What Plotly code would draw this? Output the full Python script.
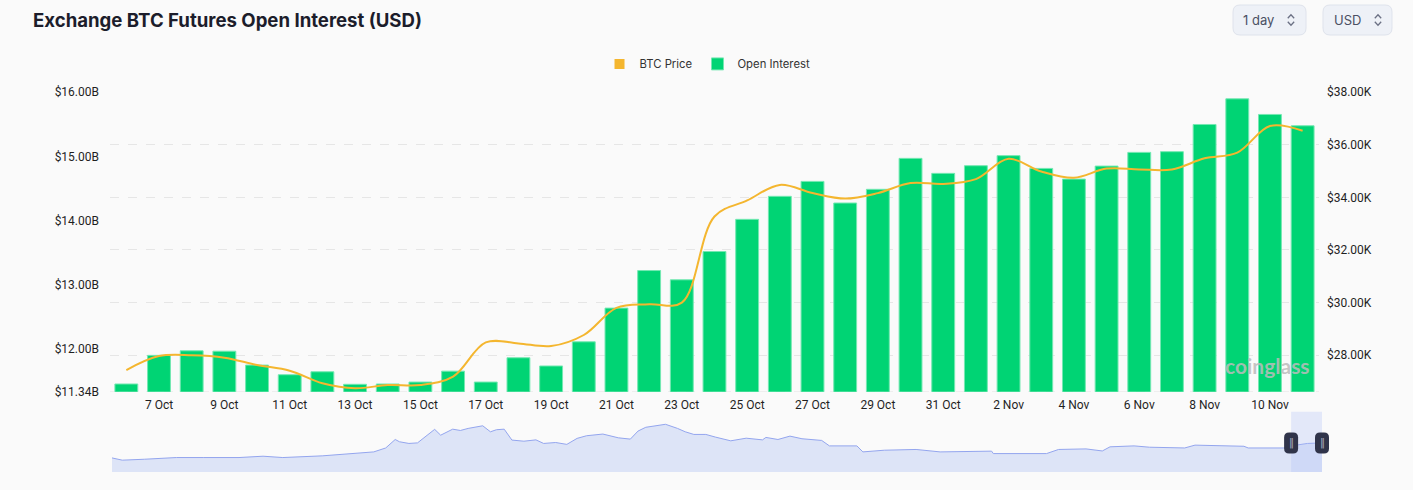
import pandas as pd
import plotly.graph_objects as go

# daily bars, 6 Oct 2023 -> 11 Nov 2023
dates = pd.date_range("2023-10-06", "2023-11-11", freq="D")

# open interest, billions of USD
open_interest = [
    11.46, 11.905, 11.976, 11.97, 11.754, 11.604, 11.65, 11.455, 11.46,
    11.49, 11.66, 11.49, 11.868, 11.74, 12.116, 12.64, 13.224, 13.08,
    13.52, 14.02, 14.378, 14.61, 14.274, 14.487, 14.968, 14.735, 14.854,
    15.01, 14.812, 14.646, 14.848, 15.061, 15.072, 15.495, 15.894, 15.651,
    15.475,
]

# BTC price, thousands of USD
btc_price = [
    27.44, 27.97, 28.0, 27.91, 27.63, 27.415, 26.935, 26.745, 26.87,
    26.87, 27.19, 28.49, 28.45, 28.35, 28.77, 29.80, 29.94, 30.0,
    33.27, 33.88, 34.47, 34.16, 33.95, 34.16, 34.54, 34.51, 34.69,
    35.46, 34.98, 34.74, 35.09, 35.06, 35.06, 35.48, 35.70, 36.71,
    36.53,
]

oi_ticks = [11.34, 12, 13, 14, 15, 16]
price_ticks = [28, 30, 32, 34, 36, 38]

# long history shown in the zoom slider (days since 1 Jan 2020, OI in B)
history_days = [
    0, 12, 38, 75, 107, 148, 176, 199, 245, 278, 305, 319, 330, 335, 346,
    356, 365, 376, 383, 397, 406, 415, 432, 441, 448, 457, 466, 480, 494,
    503, 517, 530, 542, 553, 572, 590, 604, 613, 622, 645, 659, 668, 678,
    692, 703, 721, 739, 758, 762, 776, 790, 804, 827, 836, 868, 875, 900,
    937, 965, 1025, 1027, 1089, 1103, 1135, 1154, 1163, 1191, 1209, 1250,
    1262, 1319, 1324, 1365, 1374, 1393, 1410,
]
history_oi = [
    7.5, 6.3, 6.8, 7.7, 7.7, 7.7, 8.4, 7.7, 8.6, 9.8, 10.7, 12.8, 17.3,
    16.1, 15.2, 15.5, 18.7, 22.7, 19.6, 22.8, 22.1, 23.2, 24.6, 21.4, 22.5,
    22.8, 17.0, 16.4, 17.1, 15.2, 15.7, 14.7, 17.9, 19.3, 20.2, 18.2, 17.5,
    21.8, 23.8, 25.4, 23.2, 21.4, 20.0, 20.0, 18.6, 16.6, 18.0, 17.1, 18.4,
    17.3, 19.1, 17.7, 16.8, 13.9, 13.9, 10.7, 11.6, 12.0, 10.7, 11.1, 9.8,
    9.8, 12.0, 12.3, 11.2, 13.4, 13.9, 13.2, 12.8, 14.3, 13.7, 12.8, 12.8,
    13.9, 15.2, 15.5,
]
history_dates = pd.Timestamp("2020-01-01") + pd.to_timedelta(history_days, unit="D")

GREEN = "#00d474"
ORANGE = "#f4b62f"
BG = "#fafafa"
TICK_FONT = dict(family="Roboto", size=12, color="#1f1f1f")
SLIDER_DOMAIN = [0.00165, 1]

fig = go.Figure()

# legend-only marker so BTC Price gets a square swatch like the original
fig.add_trace(go.Scatter(
    x=[None], y=[None], mode="markers", name="BTC Price",
    marker=dict(symbol="square", size=10, color=ORANGE),
))
fig.add_trace(go.Bar(
    x=dates, y=open_interest, name="Open Interest",
    marker=dict(color=GREEN, line=dict(color="#74e8b2", width=1)),
    xaxis="x", yaxis="y",
))
fig.add_trace(go.Scatter(
    x=dates, y=btc_price, mode="lines", name="BTC Price", showlegend=False,
    line=dict(color=ORANGE, width=2, shape="spline", smoothing=1),
    xaxis="x", yaxis="y2",
))
fig.add_trace(go.Scatter(
    x=history_dates, y=history_oi, mode="lines", showlegend=False,
    fill="tozeroy", fillcolor="rgba(214,222,246,0.8)",
    line=dict(color="#93a5ee", width=1),
    xaxis="x2", yaxis="y3", hoverinfo="skip",
))


def rounded_box(w, h, r):
    a, b = w / 2, h / 2
    return (f"M {-a + r},{-b} L {a - r},{-b} Q {a},{-b} {a},{-b + r} "
            f"L {a},{b - r} Q {a},{b} {a - r},{b} L {-a + r},{b} "
            f"Q {-a},{b} {-a},{b - r} L {-a},{-b + r} Q {-a},{-b} {-a + r},{-b} Z")


def slider_frac(d):
    # paper x of a date on the slider axis (paper shapes are not clipped)
    span = (history_dates[-1] - history_dates[0]) / pd.Timedelta(days=1)
    pos = (d - history_dates[0]) / pd.Timedelta(days=1) / span
    return SLIDER_DOMAIN[0] + pos * (SLIDER_DOMAIN[1] - SLIDER_DOMAIN[0])


shapes = [
    # dashed baseline of the main plot
    dict(type="line", xref="x domain", x0=0, x1=1, yref="y",
         y0=oi_ticks[0], y1=oi_ticks[0],
         line=dict(color="#e6e6e6", width=1, dash="dash"), layer="below"),
    # selected window in the slider
    dict(type="rect", xref="x2", x0=dates[0], x1=dates[-1],
         yref="y3 domain", y0=0, y1=1,
         fillcolor="rgba(175,192,250,0.3)", line=dict(width=0)),
]
handle_y = 0.0763
for d in (dates[0], dates[-1]):
    shapes.append(dict(
        type="path", xref="paper", xsizemode="pixel", xanchor=slider_frac(d),
        yref="paper", ysizemode="pixel", yanchor=handle_y,
        path=rounded_box(14, 21, 5), fillcolor="#30344a", line=dict(width=0),
    ))
# top-right selectors: rounded box plus a small up/down chevron
for cx, w, chev in ((0.9567, 73, 0.9744), (1.0293, 69, 1.0462)):
    shapes.append(dict(
        type="path", xref="paper", xsizemode="pixel", xanchor=cx,
        yref="paper", ysizemode="pixel", yanchor=1.1895,
        path=rounded_box(w, 30, 7), fillcolor="#eef1f7",
        line=dict(color="#dfe3ec", width=1),
    ))
    shapes.append(dict(
        type="path", xref="paper", xsizemode="pixel", xanchor=chev,
        yref="paper", ysizemode="pixel", yanchor=1.1895,
        path="M -3.2,1.8 L 0,5.2 L 3.2,1.8 M -3.2,-1.8 L 0,-5.2 L 3.2,-1.8",
        line=dict(color="#6b7084", width=1.3),
    ))

annotations = [
    dict(text="1 day", xref="paper", yref="paper", x=0.9472, y=1.1895,
         xanchor="center", yanchor="middle", showarrow=False,
         font=dict(family="Inter", size=13, color="#4b5064")),
    dict(text="USD", xref="paper", yref="paper", x=1.0210, y=1.1895,
         xanchor="center", yanchor="middle", showarrow=False,
         font=dict(family="Inter", size=13, color="#4b5064")),
    dict(text="coinglass", xref="paper", yref="paper", x=0.955, y=0.281,
         xanchor="center", yanchor="middle", showarrow=False,
         font=dict(family="Lato", size=21, color="rgba(188,188,188,0.85)",
                   weight=700)),
]
for d in (dates[0], dates[-1]):
    annotations.append(dict(
        text="‖", xref="paper", x=slider_frac(d), yref="paper", y=handle_y,
        xanchor="center", yanchor="middle", showarrow=False,
        font=dict(family="DejaVu Sans", size=10, color="#a7adbf")))

fig.update_layout(
    width=1413, height=490,
    margin=dict(l=110, r=91, t=92, b=18),
    paper_bgcolor=BG, plot_bgcolor=BG,
    bargap=0.3,
    title=dict(text="Exchange BTC Futures Open Interest (USD)",
               x=33 / 1413, xref="container", xanchor="left",
               y=1 - 20 / 490, yref="container", yanchor="middle",
               font=dict(family="Inter", size=18.6, color="#1c1d2b", weight=700)),
    legend=dict(orientation="h", x=0.493, xanchor="center", y=1.074,
                yanchor="middle", font=dict(family="Inter", size=11.3, color="#333"),
                bgcolor="rgba(0,0,0,0)", itemclick=False),
    xaxis=dict(type="date", domain=[0, 0.9975], anchor="y",
               range=[dates[0] - pd.Timedelta(hours=12), dates[-1] + pd.Timedelta(hours=12)],
               tick0="2023-10-07", dtick=2 * 86400000, tickformat="%-d %b",
               showgrid=False, zeroline=False, showline=False,
               tickfont=TICK_FONT, ticklabelstandoff=4),
    yaxis=dict(domain=[0.2113, 1], anchor="x",
               range=[oi_ticks[0], oi_ticks[-1]],
               tickvals=oi_ticks, ticktext=[f"${v:.2f}B" for v in oi_ticks],
               showgrid=False, zeroline=False, tickfont=TICK_FONT,
               ticklabelstandoff=10),
    yaxis2=dict(overlaying="y", side="right", anchor="x",
                range=[26.616, price_ticks[-1]],
                tickvals=price_ticks, ticktext=[f"${v:.2f}K" for v in price_ticks],
                showgrid=True, gridcolor="#e6e6e6", griddash="dash",
                zeroline=False, tickfont=TICK_FONT, ticklabelstandoff=7),
    xaxis2=dict(type="date", domain=SLIDER_DOMAIN, anchor="y3",
                range=[history_dates[0], history_dates[-1]], visible=False),
    yaxis3=dict(domain=[0, 0.1587], anchor="x2", range=[0, 32.1], visible=False),
    shapes=shapes,
    annotations=annotations,
    hovermode="x",
)

# drop the browser's default 8px body margin so the figure sits at (0, 0)
fig.write_html(
    "out.html",
    config={"displayModeBar": False},
    post_script="document.body.style.margin='0';"
                "document.body.style.background='#fafafa';",
)
